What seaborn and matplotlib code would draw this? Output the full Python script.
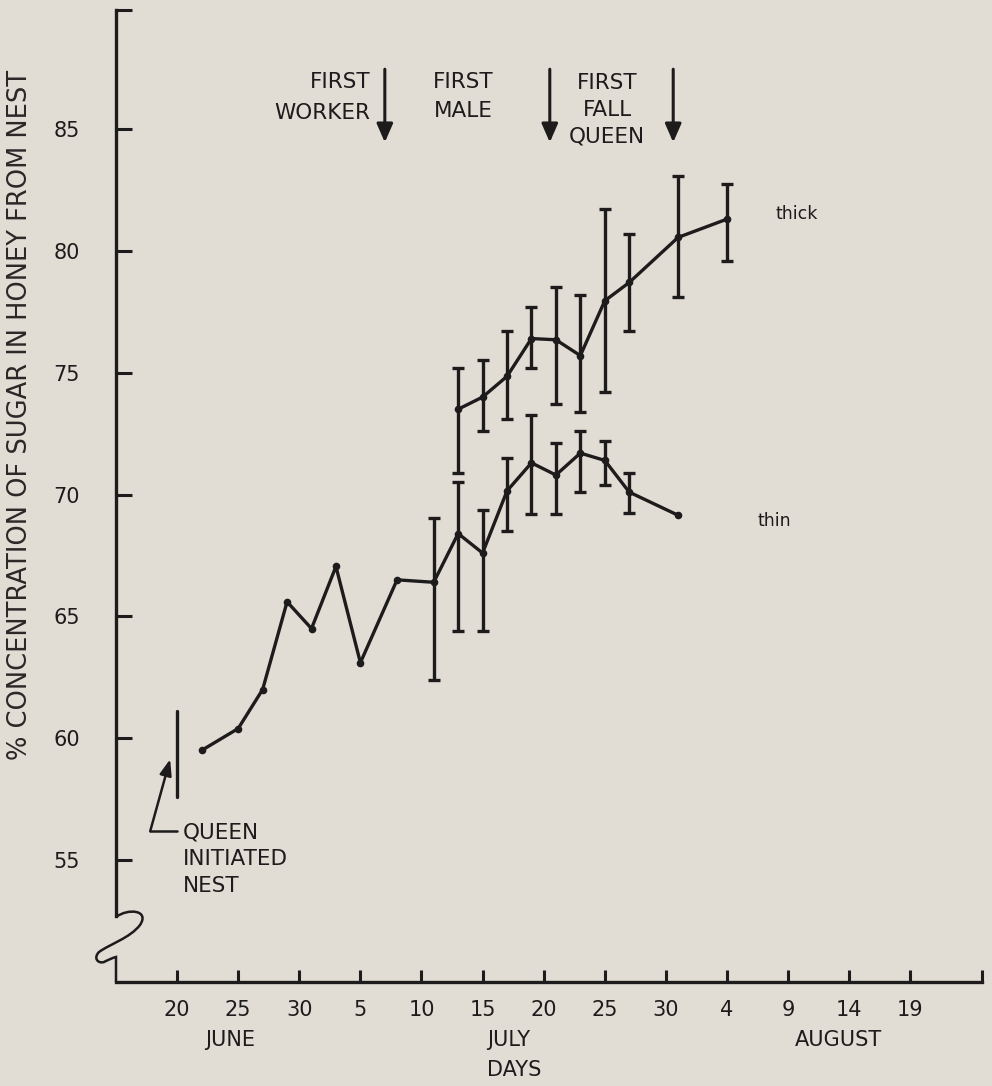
import numpy as np
import pandas as pd
import matplotlib
matplotlib.use("Agg")
import matplotlib.pyplot as plt
import seaborn as sns
from matplotlib.path import Path
from matplotlib.patches import PathPatch

# ---------------- data (day 0 = June 20) ----------------
thin_day = [2, 5, 7, 9, 11, 13, 15, 18, 21, 23, 25, 27, 29, 31, 33, 35, 37, 41]
thin_val = [59.5, 60.4, 62.0, 65.6, 64.5, 67.05, 63.1, 66.5, 66.4, 68.4, 67.6,
            70.15, 71.3, 70.8, 71.7, 71.4, 70.1, 69.15]

thin_err_day = [21, 23, 25, 27, 29, 31, 33, 35, 37]
thin_err_mid = [66.4, 68.4, 67.6, 70.15, 71.3, 70.8, 71.7, 71.4, 70.1]
thin_err_low = [62.4, 64.4, 64.4, 68.5, 69.2, 69.2, 70.1, 70.4, 69.25]
thin_err_high = [69.05, 70.5, 69.35, 71.5, 73.25, 72.1, 72.6, 72.2, 70.9]

thick_day = [23, 25, 27, 29, 31, 33, 35, 37, 41, 45]
thick_val = [73.5, 74.0, 74.85, 76.4, 76.35, 75.7, 77.95, 78.7, 80.55, 81.3]
thick_low = [70.9, 72.6, 73.1, 75.2, 73.7, 73.4, 74.2, 76.7, 78.1, 79.6]
thick_high = [75.2, 75.5, 76.7, 77.7, 78.5, 78.2, 81.7, 80.7, 83.05, 82.75]

xtick_days = [0, 5, 10, 15, 20, 25, 30, 35, 40, 45, 50, 55, 60]
xtick_labels = ["20", "25", "30", "5", "10", "15", "20", "25", "30", "4", "9", "14", "19"]
ytick_vals = [55, 60, 65, 70, 75, 80, 85]
month_labels = ["JUNE", "JULY", "AUGUST"]
month_pos = [4.3, 27.1, 54.1]
event_days = [17.0, 30.5, 40.6]

# ---------------- style ----------------
BG = "#e2ddd4"
INK = "#1d1b1b"
sns.set_style("ticks")
plt.rcParams["font.family"] = ["DejaVu Sans"]

W, H = 992, 1086
fig = plt.figure(figsize=(W / 100, H / 100), dpi=100, facecolor=BG)
AX_L, AX_R, AX_T, AX_B = 116, 982, 10, 982
ax = fig.add_axes([AX_L / W, (H - AX_B) / H, (AX_R - AX_L) / W, (AX_B - AX_T) / H])
ax.set_facecolor(BG)

XMIN, XMAX = -5.0, 65.87
YMIN, YMAX = 50.0, 89.88
ax.set_xlim(XMIN, XMAX)
ax.set_ylim(YMIN, YMAX)

# lines
df_thin = pd.DataFrame({"day": thin_day, "val": thin_val})
df_thick = pd.DataFrame({"day": thick_day, "val": thick_val})
for df in (df_thin, df_thick):
    sns.lineplot(data=df, x="day", y="val", ax=ax, color=INK, lw=2.4,
                 marker="o", markersize=5.5, markeredgewidth=0, errorbar=None,
                 zorder=3)

# error bars
def add_err(days, mid, low, high):
    mid = np.array(mid); low = np.array(low); high = np.array(high)
    ax.errorbar(days, mid, yerr=[mid - low, high - mid], fmt="none",
                ecolor=INK, elinewidth=2.4, capsize=4, capthick=2.4, zorder=3)

add_err(thin_err_day, thin_err_mid, thin_err_low, thin_err_high)
add_err(thick_day, thick_val, thick_low, thick_high)

# axes styling
for s in ("top", "right"):
    ax.spines[s].set_visible(False)
ax.spines["left"].set_linewidth(2.4)
ax.spines["bottom"].set_linewidth(2.4)
ax.spines["left"].set_color(INK)
ax.spines["bottom"].set_color(INK)
ax.spines["left"].set_bounds(52.7, YMAX)

ax.set_xticks(xtick_days + [XMAX])
ax.set_xticklabels(xtick_labels + [""])
ax.set_yticks(ytick_vals + [YMAX])
ax.set_yticklabels([str(v) for v in ytick_vals] + [""])
ax.tick_params(axis="x", direction="in", length=8.5, width=2.2, color=INK,
               labelsize=15, labelcolor=INK, pad=13)
ax.tick_params(axis="y", direction="in", length=11.5, width=2.2, color=INK,
               labelsize=15, labelcolor=INK, pad=26)
ax.set_xlabel("")
ax.set_ylabel("")

# axis break squiggle (pixel coordinates -> axes fraction)
def px2ax(px, py):
    return ((px - AX_L) / (AX_R - AX_L), (AX_B - py) / (AX_B - AX_T))

verts_px = [(116, 917), (128, 908), (150, 910), (140, 925),
            (130, 938), (110, 944), (99, 952),
            (93, 958), (98, 964), (104, 962),
            (108, 960), (112, 958), (116, 957),
            (116, 982)]
codes = [Path.MOVETO, Path.CURVE4, Path.CURVE4, Path.CURVE4,
         Path.CURVE4, Path.CURVE4, Path.CURVE4,
         Path.CURVE4, Path.CURVE4, Path.CURVE4,
         Path.CURVE4, Path.CURVE4, Path.CURVE4,
         Path.LINETO]
verts = [px2ax(*v) for v in verts_px]
ax.add_patch(PathPatch(Path(verts, codes), transform=ax.transAxes, fill=False,
                       edgecolor=INK, lw=1.8, clip_on=False))

# month labels and DAYS
for lab, pos in zip(month_labels, month_pos):
    ax.text(pos, px2ax(0, 1040)[1], lab, transform=ax.get_xaxis_transform(),
            ha="center", va="center", fontsize=15, color=INK, clip_on=False)
ax.text(27.6, px2ax(0, 1070)[1], "DAYS", transform=ax.get_xaxis_transform(),
        ha="center", va="center", fontsize=15, color=INK, clip_on=False)

# y label
fig.text(20 / W, 1 - 415 / H, "% CONCENTRATION OF SUGAR IN HONEY FROM NEST",
         rotation=90, ha="center", va="center", fontsize=18.5, color="#2a2727")

# event arrows
for d in event_days:
    ax.annotate("", xy=(d, 84.45), xytext=(d, 87.45),
                arrowprops=dict(arrowstyle="-|>,head_length=0.8,head_width=0.35",
                                color=INK, lw=2.2, shrinkA=0, shrinkB=0,
                                mutation_scale=14))
ax.text(15.8, 86.93, "FIRST", ha="right", va="center", fontsize=15.5, color=INK)
ax.text(15.8, 85.66, "WORKER", ha="right", va="center", fontsize=15.5, color=INK)
ax.text(23.4, 86.93, "FIRST", ha="center", va="center", fontsize=15.5, color=INK)
ax.text(23.4, 85.75, "MALE", ha="center", va="center", fontsize=15.5, color=INK)
ax.text(35.2, 86.9, "FIRST", ha="center", va="center", fontsize=15.5, color=INK)
ax.text(35.2, 85.78, "FALL", ha="center", va="center", fontsize=15.5, color=INK)
ax.text(35.2, 84.67, "QUEEN", ha="center", va="center", fontsize=15.5, color=INK)

# queen initiated nest marker
ax.plot([0, 0], [57.6, 61.1], color=INK, lw=2.4)
ax.plot([0, -2.2], [56.19, 56.19], color=INK, lw=1.8)
ax.annotate("", xy=(-0.57, 59.14), xytext=(-2.2, 56.19),
            arrowprops=dict(arrowstyle="-|>,head_length=0.8,head_width=0.3",
                            color=INK, lw=1.8, shrinkA=0, shrinkB=0,
                            mutation_scale=12))
for txt, yv in zip(["QUEEN", "INITIATED", "NEST"], [56.15, 55.05, 53.93]):
    ax.text(0.5, yv, txt, ha="left", va="center", fontsize=15.5, color=INK)

# series labels
ax.text(49.0, 81.5, "thick", ha="left", va="center", fontsize=12.5, color=INK)
ax.text(47.5, 68.9, "thin", ha="left", va="center", fontsize=12.5, color=INK)

fig.savefig("out.png", dpi=100, facecolor=BG)
